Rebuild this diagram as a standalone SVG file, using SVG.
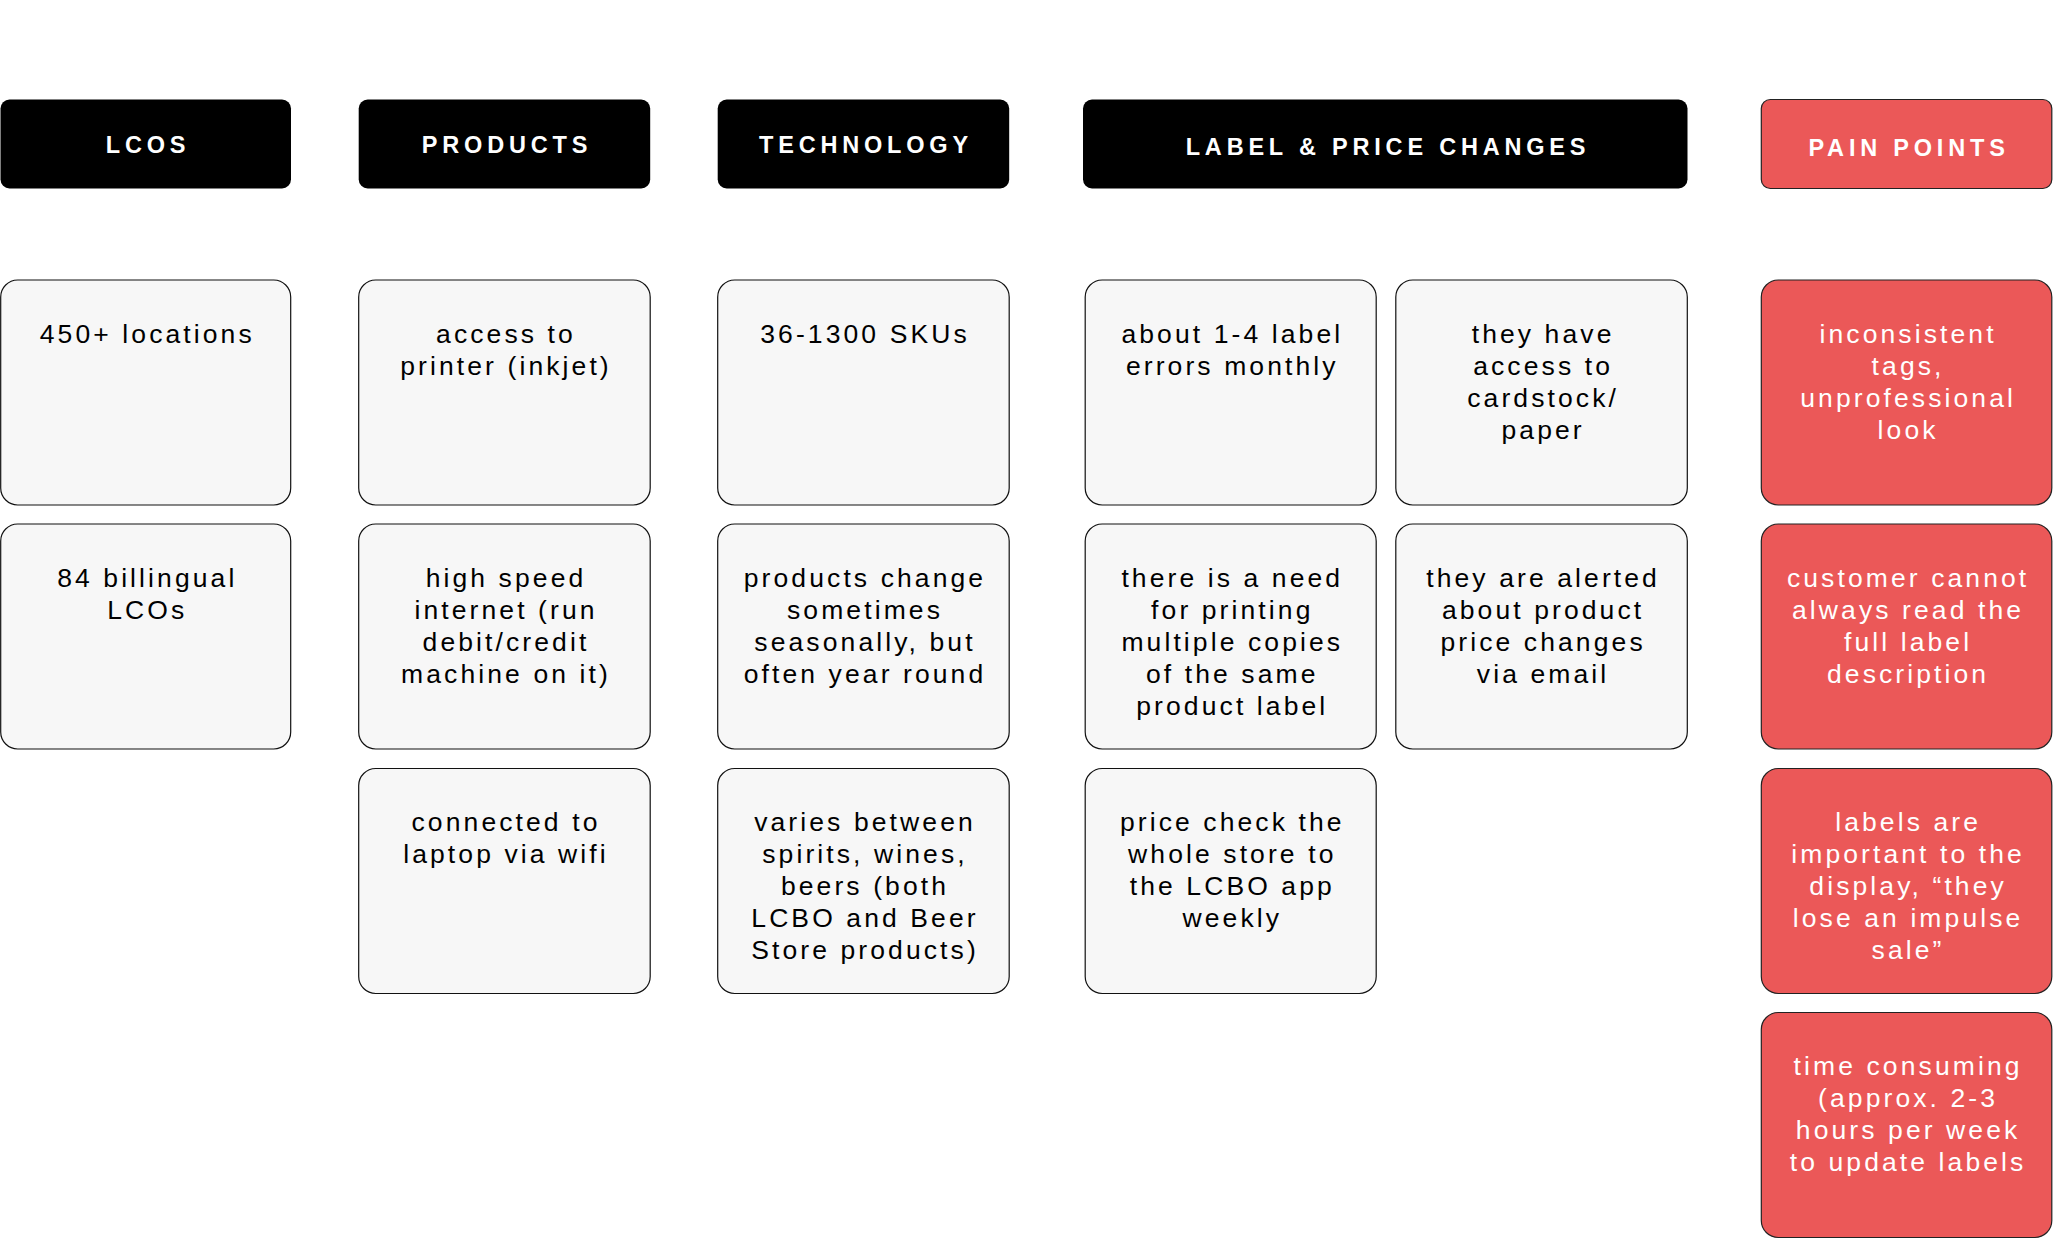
<svg xmlns="http://www.w3.org/2000/svg" width="2053" height="1239" viewBox="0 0 2053 1239">
<style>
.hd{fill:#000;}
.hdp{fill:#eb5858;stroke:#222;stroke-width:1.2;}
.ht{font-family:"Liberation Sans",Arial,sans-serif;font-weight:bold;font-size:23.5px;letter-spacing:4.8px;fill:#fff;text-anchor:middle;}
.cd{fill:#f7f7f7;stroke:#111;stroke-width:1.2;}
.cp{fill:#eb5858;stroke:#222;stroke-width:1.2;}
.t{font-family:"Liberation Sans",Arial,sans-serif;font-size:26.5px;letter-spacing:3.1px;fill:#000;text-anchor:middle;}
.tw{font-family:"Liberation Sans",Arial,sans-serif;font-size:26.5px;letter-spacing:3.1px;fill:#fff;text-anchor:middle;}
</style>
<rect width="2053" height="1239" fill="#fff"/>
<g id="headers">
<g id="h-lcos"><rect class="hd" x="0.5" y="99.5" width="290.5" height="89" rx="9"/><text class="ht" x="148" y="153">LCOS</text></g>
<g id="h-products"><rect class="hd" x="358.7" y="99.5" width="291.5" height="89" rx="9"/><text class="ht" x="507" y="153">PRODUCTS</text></g>
<g id="h-technology"><rect class="hd" x="717.7" y="99.5" width="291.5" height="89" rx="9"/><text class="ht" x="866" y="153">TECHNOLOGY</text></g>
<g id="h-label"><rect class="hd" x="1083" y="99.5" width="604.5" height="89" rx="9"/><text class="ht" x="1388" y="154.5">LABEL &amp; PRICE CHANGES</text></g>
<g id="h-pain"><rect class="hdp" x="1761.3" y="99.5" width="290.5" height="89" rx="9"/><text class="ht" x="1909" y="156">PAIN POINTS</text></g>
</g>
<g id="connectors"></g>
<g id="lcos">
<g id="lcos-1"><rect class="cd" x="0.7" y="280" width="290" height="225" rx="17"/><text class="t" x="147.3" y="343">450+ locations</text></g>
<g id="lcos-2"><rect class="cd" x="0.7" y="524" width="290" height="225" rx="17"/><text class="t" x="147.3" y="587"><tspan x="147.3">84 billingual</tspan><tspan x="147.3" dy="32">LCOs</tspan></text></g>
</g>
<g id="products">
<g id="prod-1"><rect class="cd" x="358.7" y="280" width="291.5" height="225" rx="17"/><text class="t" x="506" y="343"><tspan x="506">access to</tspan><tspan x="506" dy="32">printer (inkjet)</tspan></text></g>
<g id="prod-2"><rect class="cd" x="358.7" y="524" width="291.5" height="225" rx="17"/><text class="t" x="506" y="587"><tspan x="506">high speed</tspan><tspan x="506" dy="32">internet (run</tspan><tspan x="506" dy="32">debit/credit</tspan><tspan x="506" dy="32">machine on it)</tspan></text></g>
<g id="prod-3"><rect class="cd" x="358.7" y="768.5" width="291.5" height="225" rx="17"/><text class="t" x="506" y="831"><tspan x="506">connected to</tspan><tspan x="506" dy="32">laptop via wifi</tspan></text></g>
</g>
<g id="technology">
<g id="tech-1"><rect class="cd" x="717.7" y="280" width="291.5" height="225" rx="17"/><text class="t" x="865" y="343">36-1300 SKUs</text></g>
<g id="tech-2"><rect class="cd" x="717.7" y="524" width="291.5" height="225" rx="17"/><text class="t" x="865" y="587"><tspan x="865">products change</tspan><tspan x="865" dy="32">sometimes</tspan><tspan x="865" dy="32">seasonally, but</tspan><tspan x="865" dy="32">often year round</tspan></text></g>
<g id="tech-3"><rect class="cd" x="717.7" y="768.5" width="291.5" height="225" rx="17"/><text class="t" x="865" y="831"><tspan x="865">varies between</tspan><tspan x="865" dy="32">spirits, wines,</tspan><tspan x="865" dy="32">beers (both</tspan><tspan x="865" dy="32">LCBO and Beer</tspan><tspan x="865" dy="32">Store products)</tspan></text></g>
</g>
<g id="label-price">
<g id="lab-1"><rect class="cd" x="1085.2" y="280" width="291" height="225" rx="17"/><text class="t" x="1232.3" y="343"><tspan x="1232.3">about 1-4 label</tspan><tspan x="1232.3" dy="32">errors monthly</tspan></text></g>
<g id="lab-2"><rect class="cd" x="1395.8" y="280" width="291.5" height="225" rx="17"/><text class="t" x="1543.1" y="343"><tspan x="1543.1">they have</tspan><tspan x="1543.1" dy="32">access to</tspan><tspan x="1543.1" dy="32">cardstock/</tspan><tspan x="1543.1" dy="32">paper</tspan></text></g>
<g id="lab-3"><rect class="cd" x="1085.2" y="524" width="291" height="225" rx="17"/><text class="t" x="1232.3" y="587"><tspan x="1232.3">there is a need</tspan><tspan x="1232.3" dy="32">for printing</tspan><tspan x="1232.3" dy="32">multiple copies</tspan><tspan x="1232.3" dy="32">of the same</tspan><tspan x="1232.3" dy="32">product label</tspan></text></g>
<g id="lab-4"><rect class="cd" x="1395.8" y="524" width="291.5" height="225" rx="17"/><text class="t" x="1543.1" y="587"><tspan x="1543.1">they are alerted</tspan><tspan x="1543.1" dy="32">about product</tspan><tspan x="1543.1" dy="32">price changes</tspan><tspan x="1543.1" dy="32">via email</tspan></text></g>
<g id="lab-5"><rect class="cd" x="1085.2" y="768.5" width="291" height="225" rx="17"/><text class="t" x="1232.3" y="831"><tspan x="1232.3">price check the</tspan><tspan x="1232.3" dy="32">whole store to</tspan><tspan x="1232.3" dy="32">the LCBO app</tspan><tspan x="1232.3" dy="32">weekly</tspan></text></g>
</g>
<g id="pain-points">
<g id="pain-1"><rect class="cp" x="1761.3" y="280" width="290.5" height="225" rx="17"/><text class="tw" x="1908.1" y="343"><tspan x="1908.1">inconsistent</tspan><tspan x="1908.1" dy="32">tags,</tspan><tspan x="1908.1" dy="32">unprofessional</tspan><tspan x="1908.1" dy="32">look</tspan></text></g>
<g id="pain-2"><rect class="cp" x="1761.3" y="524" width="290.5" height="225" rx="17"/><text class="tw" x="1908.1" y="587"><tspan x="1908.1">customer cannot</tspan><tspan x="1908.1" dy="32">always read the</tspan><tspan x="1908.1" dy="32">full label</tspan><tspan x="1908.1" dy="32">description</tspan></text></g>
<g id="pain-3"><rect class="cp" x="1761.3" y="768.5" width="290.5" height="225" rx="17"/><text class="tw" x="1908.1" y="831"><tspan x="1908.1">labels are</tspan><tspan x="1908.1" dy="32">important to the</tspan><tspan x="1908.1" dy="32">display, “they</tspan><tspan x="1908.1" dy="32">lose an impulse</tspan><tspan x="1908.1" dy="32">sale”</tspan></text></g>
<g id="pain-4"><rect class="cp" x="1761.3" y="1012.5" width="290.5" height="225" rx="17"/><text class="tw" x="1908.1" y="1075"><tspan x="1908.1">time consuming</tspan><tspan x="1908.1" dy="32">(approx. 2-3</tspan><tspan x="1908.1" dy="32">hours per week</tspan><tspan x="1908.1" dy="32">to update labels</tspan></text></g>
</g>
</svg>
